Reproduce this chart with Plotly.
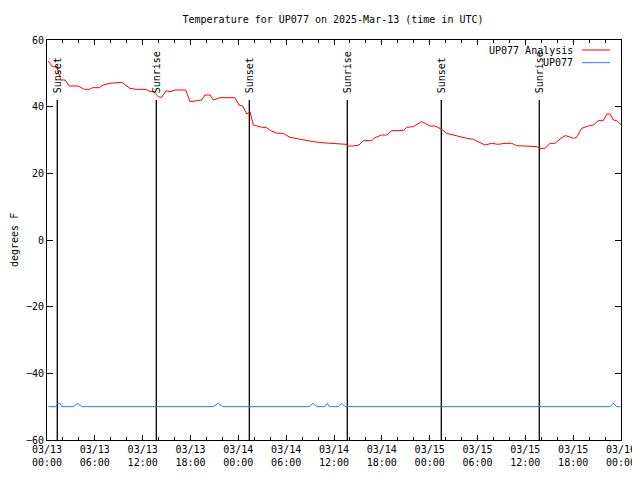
import plotly.graph_objects as go
import pandas as pd

BASE = pd.Timestamp("2025-03-13 00:00")

# Analysis temperature (hours after 03/13 00:00 UTC, deg F)
analysis_hours = [0.16, 0.66, 1.22, 1.72, 2.26, 2.80, 3.93, 4.68, 5.31, 5.73, 6.56, 7.06, 7.90, 9.37,
                  10.41, 11.25, 12.42, 12.92, 13.33, 13.96, 14.39, 14.93, 15.43, 16.06, 17.40, 17.94,
                  19.41, 19.82, 20.45, 20.86, 21.70, 23.58, 24.08, 24.55, 25.05, 25.46, 25.88, 26.93,
                  27.47, 28.06, 28.89, 29.64, 30.48, 31.52, 32.58, 33.40, 34.46, 35.50, 36.75, 37.51,
                  37.80, 38.42, 39.14, 39.68, 40.73, 41.14, 41.98, 42.61, 43.24, 44.69, 45.12, 45.95,
                  47.00, 48.04, 48.67, 49.51, 50.14, 50.97, 51.81, 52.65, 53.47, 54.10, 54.94, 55.78,
                  56.61, 57.45, 58.29, 58.92, 59.75, 61.43, 61.84, 62.47, 63.10, 63.72, 64.35, 64.98,
                  65.52, 66.02, 66.44, 67.07, 67.90, 68.53, 69.15, 69.78, 70.21, 70.62, 71.04, 71.46,
                  72.00]
analysis_temp = [53.7, 52.0, 52.0, 48.0, 48.0, 46.2, 46.2, 45.2, 45.2, 45.7, 45.7, 46.5, 47.0, 47.3,
                 45.5, 45.2, 45.2, 44.5, 44.5, 43.0, 42.8, 44.8, 44.5, 45.0, 45.0, 41.5,
                 42.0, 43.5, 43.5, 42.0, 42.7, 42.7, 40.5, 40.2, 37.8, 38.5, 34.5, 33.8,
                 33.8, 32.8, 32.0, 32.0, 30.8, 30.3, 30.0, 29.5, 29.2, 29.0, 28.7, 28.7,
                 28.2, 28.2, 28.5, 29.8, 29.8, 30.7, 31.5, 31.5, 32.8, 32.8, 33.8, 34.0,
                 35.5, 34.2, 34.2, 33.2, 32.0, 31.5, 30.8, 30.5, 30.2, 29.5, 28.5, 29.0,
                 28.7, 29.0, 29.0, 28.3, 28.2, 28.0, 27.5, 27.5, 29.0, 29.0, 30.3, 31.3,
                 31.0, 30.5, 30.8, 33.5, 34.2, 34.5, 35.8, 35.8, 37.8, 37.8, 36.0, 35.8,
                 34.6]

# Station observations
obs_hours = [0.16, 1.12, 1.34, 1.63, 1.84, 3.30, 3.85, 4.35, 20.82, 21.49, 22.04, 32.86, 33.40, 33.87,
             34.87, 35.16, 35.41, 36.50, 36.97, 37.38, 70.62, 71.04, 71.46, 71.96]
obs_temp = [-50, -50, -49, -49, -50, -50, -49, -50, -50, -49, -50, -50, -49, -50,
            -50, -49, -50, -50, -49, -50, -50, -49, -50, -50]

# Sun events
sun_hours = [1.29, 13.71, 25.38, 37.67, 49.46, 61.75]
sun_labels = ["Sunset", "Sunrise", "Sunset", "Sunrise", "Sunset", "Sunrise"]
sun_line_top = 42

def to_time(hours):
    return [BASE + pd.Timedelta(hours=h) for h in hours]

FONT = "DejaVu Sans Mono"
RED = "#ff0000"
BLUE = "#1e80f0"

# page offset of the figure (body margin) and figure size
OFF = 8
W, H = 640 - OFF, 480 - OFF
# plot area in screen pixels
L, R, T, B = 47, 621, 40, 440
PW, PH = R - L, B - T

fig = go.Figure()

# vertical sun lines
vx, vy = [], []
for t in to_time(sun_hours):
    vx += [t, t, None]
    vy += [sun_line_top, -60, None]
fig.add_trace(go.Scatter(x=vx, y=vy, mode="lines", line=dict(color="black", width=1.3),
                         hoverinfo="skip", showlegend=False))

fig.add_trace(go.Scatter(x=to_time(analysis_hours), y=analysis_temp, mode="lines",
                         line=dict(color=RED, width=1), name="UP077 Analysis", showlegend=False))
fig.add_trace(go.Scatter(x=to_time(obs_hours), y=obs_temp, mode="lines",
                         line=dict(color=BLUE, width=1), name="UP077", showlegend=False))

for t, lab in zip(to_time(sun_hours), sun_labels):
    fig.add_annotation(x=t, y=sun_line_top, xref="x", yref="y", text=lab, textangle=-90,
                       showarrow=False, xanchor="center", yanchor="bottom", yshift=5,
                       font=dict(family=FONT, size=10, color="black"))

# custom gnuplot-style legend (text right, sample on its right)
legend_items = [("UP077 Analysis", RED), ("UP077", BLUE)]
for i, (name, col) in enumerate(legend_items):
    ypix = 50 + 12.7 * i
    yp = 1 - (ypix - T) / PH
    fig.add_annotation(x=(575 - L) / PW, y=yp, xref="paper", yref="paper",
                       text=name, showarrow=False, xanchor="right", yanchor="middle",
                       font=dict(family=FONT, size=10, color="black"))
    fig.add_shape(type="line", xref="paper", yref="paper",
                  x0=(582 - L) / PW, x1=(610 - L) / PW, y0=yp, y1=yp,
                  line=dict(color=col, width=1))

# y axis title
fig.add_annotation(x=0, y=0.5, xref="paper", yref="paper", xshift=-33, text="degrees F",
                   textangle=-90, showarrow=False, xanchor="center", yanchor="middle",
                   font=dict(family=FONT, size=10, color="black"))

fig.update_layout(
    width=W, height=H,
    margin=dict(l=L - OFF, r=W - (R - OFF), t=T - OFF, b=H - (B - OFF), pad=0, autoexpand=False),
    paper_bgcolor="white", plot_bgcolor="white",
    font=dict(family=FONT, size=10, color="black"),
    title=dict(text="Temperature for UP077 on 2025-Mar-13 (time in UTC)", x=(333 - OFF) / W,
               xanchor="center", y=1 - (19 - OFF) / H, yanchor="middle",
               font=dict(family=FONT, size=10, color="black")),
    showlegend=False,
)
fig.update_xaxes(
    type="date", range=[BASE, BASE + pd.Timedelta(hours=72)], automargin=False,
    dtick=6 * 3600 * 1000, tick0=BASE, tickformat="%m/%d<br>%H:%M",
    ticks="inside", ticklen=5, tickcolor="black", tickwidth=1,
    minor=dict(dtick=2 * 3600 * 1000, tick0=BASE, ticks="inside", ticklen=3, tickcolor="black"),
    showline=True, linecolor="black", linewidth=1, mirror="ticks",
    showgrid=False, zeroline=False, tickfont=dict(family=FONT, size=10, color="black"),
)
fig.update_yaxes(
    range=[-60, 60], dtick=20, tick0=0, automargin=False,
    ticks="inside", ticklen=6, tickcolor="black", tickwidth=1,
    showline=True, linecolor="black", linewidth=1, mirror="ticks",
    showgrid=False, zeroline=False, tickfont=dict(family=FONT, size=10, color="black"),
)

fig.write_html("out.html")
